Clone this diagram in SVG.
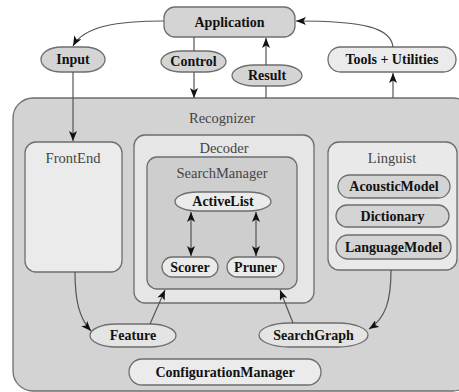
<svg xmlns="http://www.w3.org/2000/svg" width="459" height="392" viewBox="0 0 459 392" font-family="'Liberation Serif', 'Times New Roman', 'DejaVu Serif', serif">
<style>
text{font-family:'Liberation Serif','Times New Roman','DejaVu Serif',serif;text-anchor:middle}
.b{font-weight:bold;font-size:14px;fill:#111}
.c{font-size:14.5px;fill:#444}
.s{stroke:#6e6e6e;stroke-width:1.3}
.g{fill:#d4d4d4}
.l{fill:#ebebeb}
.conn path{fill:none;stroke:#555;stroke-width:1.2}
</style>
<defs>
<marker id="ah" viewBox="0 0 10 8" refX="10" refY="4" markerWidth="10" markerHeight="8" markerUnits="userSpaceOnUse" orient="auto-start-reverse">
<path d="M0,0 L10,4 L0,8 L2.5,4 z" fill="#111"/>
</marker>
</defs>
<rect x="0" y="0" width="459" height="392" fill="#fff"/>
<g id="recognizer"><rect class="s" x="13" y="98" width="460" height="293" rx="20" fill="#d3d3d3"/><text class="c" x="222" y="123">Recognizer</text></g>
<g id="frontend"><rect class="s l" x="25" y="142" width="97" height="130" rx="11"/><text class="c" x="73" y="163">FrontEnd</text></g>
<g id="decoder"><rect class="s" x="134" y="135" width="180" height="168" rx="11" fill="#e6e6e6"/><text class="c" x="224" y="153">Decoder</text></g>
<g id="searchmanager"><rect class="s" x="147" y="157" width="150" height="132" rx="10" fill="#cecece"/><text class="c" x="222" y="178">SearchManager</text></g>
<g id="activelist"><rect class="s l" x="175" y="192" width="96" height="19" rx="22" ry="9.5"/><text class="b" x="223" y="206">ActiveList</text></g>
<g id="scorer"><rect class="s l" x="162" y="257" width="56" height="20" rx="10"/><text class="b" x="190" y="272">Scorer</text></g>
<g id="pruner"><rect class="s l" x="227" y="257" width="57" height="20" rx="10"/><text class="b" x="255.5" y="272">Pruner</text></g>
<g id="linguist"><rect class="s" x="328" y="142" width="129" height="128" rx="11" fill="#e9e9e9"/><text class="c" x="392" y="163">Linguist</text></g>
<g id="acousticmodel"><rect class="s g" x="338" y="175" width="112" height="23" rx="11.5"/><text class="b" x="394" y="191">AcousticModel</text></g>
<g id="dictionary"><rect class="s g" x="336" y="205" width="113" height="22" rx="11"/><text class="b" x="392.5" y="221">Dictionary</text></g>
<g id="languagemodel"><rect class="s g" x="336" y="235" width="115" height="24" rx="12"/><text class="b" x="393.5" y="252">LanguageModel</text></g>
<g id="application"><rect class="s g" x="164" y="7" width="131" height="30" rx="11"/><text class="b" x="229.5" y="27">Application</text></g>
<g id="input"><rect class="s g" x="41" y="47" width="64" height="25" rx="20" ry="12.5"/><text class="b" x="73" y="64">Input</text></g>
<g id="control"><rect class="s g" x="161" y="51" width="65" height="21" rx="20" ry="10.5"/><text class="b" x="193.5" y="66">Control</text></g>
<g id="result"><rect class="s g" x="232" y="65" width="70" height="21" rx="22" ry="10.5"/><text class="b" x="267" y="80">Result</text></g>
<g id="tools"><rect class="s l" x="328" y="47" width="128" height="25" rx="12.5"/><text class="b" x="392" y="64">Tools + Utilities</text></g>
<g id="feature"><rect class="s" x="90" y="324" width="86" height="23" rx="26" ry="11.5" fill="#e4e4e4"/><text class="b" x="133" y="340">Feature</text></g>
<g id="searchgraph"><rect class="s" x="259" y="323" width="109" height="24" rx="30" ry="12" fill="#e4e4e4"/><text class="b" x="313.5" y="340">SearchGraph</text></g>
<g id="configurationmanager"><rect class="s l" x="129" y="359" width="192" height="26" rx="13"/><text class="b" x="225" y="377">ConfigurationManager</text></g>
<g id="connectors" class="conn">
<path d="M164,21 C118,21 84,26 73,46" marker-end="url(#ah)"/>
<path d="M73,72 L73,141" marker-end="url(#ah)"/>
<path d="M194,37 L194,51"/>
<path d="M194,72 L194,98" marker-end="url(#ah)"/>
<path d="M266,98 L266,86"/>
<path d="M266,65 L266,38" marker-end="url(#ah)"/>
<path d="M393,98 L393,73" marker-end="url(#ah)"/>
<path d="M393,47 C391,28 365,21 296,21" marker-end="url(#ah)"/>
<path d="M75,272 C75,300 79,318 91,331" marker-end="url(#ah)"/>
<path d="M150,324 L165,290" marker-end="url(#ah)"/>
<path d="M293,323 L280,290" marker-end="url(#ah)"/>
<path d="M391,270 C391,300 386,318 369,329" marker-end="url(#ah)"/>
<path d="M191,212 L191,256" marker-start="url(#ah)" marker-end="url(#ah)"/>
<path d="M256,212 L256,256" marker-start="url(#ah)" marker-end="url(#ah)"/>
</g>
</svg>
